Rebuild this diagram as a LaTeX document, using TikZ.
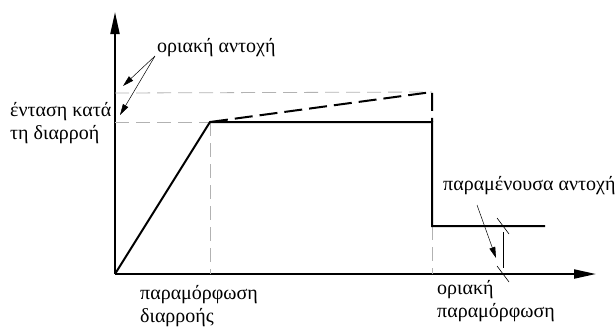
\documentclass[tikz,border=0pt]{standalone}
\usepackage{fontspec}
\setmainfont{Liberation Serif}
\newfontfamily\grfont{Liberation Serif}
\usetikzlibrary{positioning, arrows.meta}

\begin{document}
\begin{tikzpicture}[x=1pt, y=-1pt,
          axis/.style={line width=2pt, -{Triangle[length=22pt,width=9pt]}},
          curve/.style={line width=2pt},
          ultimate/.style={line width=2pt, dash pattern=on 18pt off 7pt},
          guide/.style={gray!60, line width=0.8pt, dash pattern=on 14pt off 7pt},
          pointer/.style={line width=0.5pt, -{Triangle[length=11pt,width=6pt]}},
          label/.style={font=\grfont\fontsize{20}{23}\selectfont, inner sep=0pt, align=left, anchor=base west}]
          \useasboundingbox (0,0) rectangle (615,327);

          % axes
          \coordinate (O) at (115,274);
          \coordinate (ytip) at (115,12);
          \coordinate (xtip) at (596,274);
          \draw[axis] (O) -- (ytip);
          \draw[axis] (O) -- (xtip);

          % points of the curve
          \coordinate (Y) at (210,122);
          \coordinate (U) at (432,92);
          \coordinate (F) at (432,122);
          \coordinate (R) at (432,226);
          \coordinate (Rend) at (545,226);
          \coordinate (Yx) at (210,274);
          \coordinate (Fx) at (432,274);
          \coordinate (Yy) at (115,122);
          \coordinate (Uy) at (115,93);

          % guides
          \draw[guide] (Yy) -- (Y);
          \draw[guide] (Uy) -- (U);
          \draw[guide] (Y) -- (Yx);
          \draw[guide] (R) -- (Fx);

          % curve
          \draw[curve] (O) -- (Y) -- (F) -- (R) -- (Rend);
          \draw[ultimate] (Y) -- (U) -- (F);

          % residual strength dimension
          \coordinate (dtop) at (503,226);
          \coordinate (dbot) at (503,274);
          \draw[line width=0.6pt] ([yshift=-6pt]dtop) -- ([yshift=6pt]dbot);
          \draw[line width=0.6pt] ([shift={(-6,-8)}]dtop) -- ([shift={(6,8)}]dtop);
          \draw[line width=0.6pt] ([shift={(-6,-8)}]dbot) -- ([shift={(6,8)}]dbot);

          % labels
          \node[label] (ult) at (157,52) {οριακή αντοχή};
          \node[label] (yld) at (10,139) {ένταση κατά\\τη διαρροή};
          \node[label] (yeps) at (140,322) {παραμόρφωση\\διαρροής};
          \node[label] (ueps) at (437,317) {οριακή\\παραμόρφωση};
          \node[label] (res) at (443,190) {παραμένουσα αντοχή};

          \coordinate (ultfrom) at (155,56);
          \coordinate (ultto1) at (123,86);
          \coordinate (ultto2) at (120,115);
          \draw[pointer] (ultfrom) -- (ultto1);
          \draw[pointer] (ultfrom) -- (ultto2);
          \coordinate (resfrom) at (477,205);
          \coordinate (resto) at (496,258);
          \draw[pointer] (resfrom) -- (resto);
        \end{tikzpicture}
\end{document}
